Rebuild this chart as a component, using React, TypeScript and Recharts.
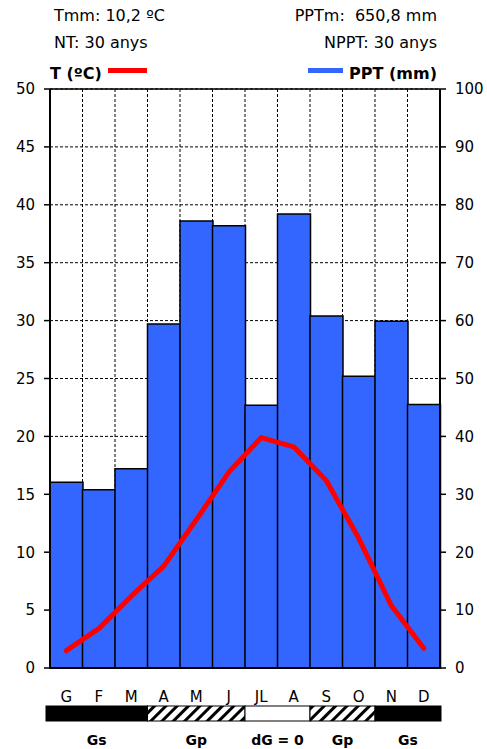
import React from "react";
import {
  ComposedChart,
  Bar,
  Line,
  XAxis,
  YAxis,
  CartesianGrid,
  ReferenceLine,
} from "recharts";

const months = ["G", "F", "M", "A", "M", "J", "JL", "A", "S", "O", "N", "D"];
const temperature = [1.5, 3.4, 6.2, 8.8, 12.8, 16.9, 19.9, 19.1, 16.2, 11.2, 5.4, 1.7];
const precipitation = [32.1, 30.8, 34.4, 59.4, 77.2, 76.4, 45.4, 78.4, 60.8, 50.4, 59.9, 45.5];
const tempTicks = [0, 5, 10, 15, 20, 25, 30, 35, 40, 45, 50];
const pptTicks = [0, 10, 20, 30, 40, 50, 60, 70, 80, 90, 100];
const boundaryTicks = [0, 1, 2, 3, 4, 5, 6, 7, 8, 9, 10, 11, 12];

// growth periods: start month, end month (exclusive), fill kind
const phaseLabels = ["Gs", "Gp", "dG = 0", "Gp", "Gs"];
const phaseStart = [0, 3, 6, 8, 10];
const phaseEnd = [3, 6, 8, 10, 12];
const phaseKind = ["solid", "hatch", "blank", "hatch", "solid"];

const W = 487;
const H = 749;
const PLOT_LEFT = 50;
const PLOT_RIGHT = 440;
const PLOT_TOP = 89;
const PLOT_BOTTOM = 668;
const FONT = "'DejaVu Sans', Verdana, sans-serif";

const data = months.map((m, i) => ({
  month: m,
  t: temperature[i],
  ppt: precipitation[i],
}));

function PhaseBand() {
  const step = (PLOT_RIGHT - PLOT_LEFT) / 12;
  const xOf = (i: number) =>
    i === 0 ? PLOT_LEFT - 4 : i === 12 ? PLOT_RIGHT + 1 : PLOT_LEFT + i * step;
  return (
    <svg
      width={W}
      height={60}
      style={{ position: "absolute", left: 0, top: 700 }}
    >
      <defs>
        <pattern
          id="hatch"
          width="8"
          height="8"
          patternUnits="userSpaceOnUse"
          patternTransform="rotate(45)"
        >
          <rect x="0" y="0" width="8" height="8" fill="#fff" />
          <rect x="0" y="0" width="3" height="8" fill="#000" />
        </pattern>
      </defs>
      {phaseLabels.map((label, i) => {
        const x0 = xOf(phaseStart[i]);
        const x1 = xOf(phaseEnd[i]);
        const fill =
          phaseKind[i] === "solid" ? "#000" : phaseKind[i] === "hatch" ? "url(#hatch)" : "#fff";
        return (
          <g key={i}>
            <rect x={x0} y={6} width={x1 - x0} height={15} fill={fill} stroke="#000" strokeWidth={1} />
            <text
              x={(x0 + x1) / 2}
              y={45}
              textAnchor="middle"
              fontFamily={FONT}
              fontWeight="bold"
              fontSize={14}
              fill="#000"
            >
              {label}
            </text>
          </g>
        );
      })}
    </svg>
  );
}

export default function App() {
  const textStyle: React.CSSProperties = {
    position: "absolute",
    fontFamily: FONT,
    fontSize: 16,
    color: "#000",
    whiteSpace: "nowrap",
  };
  return (
    <div
      style={{
        position: "absolute",
        left: 0,
        top: 0,
        width: W,
        height: H,
        background: "#fff",
      }}
    >
      <div style={{ ...textStyle, left: 54, top: 6 }}>Tmm: 10,2 ºC</div>
      <div style={{ ...textStyle, right: 50, top: 6 }}>PPTm:&nbsp; 650,8 mm</div>
      <div style={{ ...textStyle, left: 54, top: 33 }}>NT: 30 anys</div>
      <div style={{ ...textStyle, right: 50, top: 33 }}>NPPT: 30 anys</div>
      <div style={{ ...textStyle, left: 50, top: 64, fontWeight: "bold" }}>
        T (ºC)
        <span
          style={{
            display: "inline-block",
            width: 39,
            height: 5,
            background: "#ff0000",
            marginLeft: 6,
            verticalAlign: "middle",
            position: "relative",
            top: -4,
          }}
        />
      </div>
      <div style={{ ...textStyle, right: 50, top: 64, fontWeight: "bold" }}>
        <span
          style={{
            display: "inline-block",
            width: 35,
            height: 5,
            background: "#3366ff",
            marginRight: 6,
            verticalAlign: "middle",
            position: "relative",
            top: -4,
          }}
        />
        PPT (mm)
      </div>

      <ComposedChart
        width={W}
        height={H}
        data={data}
        barCategoryGap={0}
        margin={{ top: PLOT_TOP, bottom: 0, left: 0, right: 0 }}
        style={{ position: "absolute", left: 0, top: 0 }}
      >
        <CartesianGrid
          xAxisId="b"
          yAxisId="t"
          stroke="#000"
          strokeDasharray="3 2"
          strokeWidth={1}
          verticalCoordinatesGenerator={({ offset }: any) =>
            boundaryTicks.map((v) => offset.left + (v * offset.width) / 12)
          }
        />
        <XAxis
          xAxisId="b"
          type="number"
          domain={[0, 12]}
          ticks={boundaryTicks}
          tick={false}
          tickSize={6}
          height={8}
          stroke="#000"
          axisLine={{ stroke: "#000", strokeWidth: 2 }}
          tickLine={{ stroke: "#000", strokeWidth: 1.5 }}
        />
        <XAxis
          xAxisId="m"
          dataKey="month"
          height={H - PLOT_BOTTOM - 8}
          axisLine={false}
          tickLine={false}
          tickSize={0}
          tickMargin={15}
          interval={0}
          tick={{ fill: "#000", fontSize: 15, fontFamily: FONT }}
        />
        <YAxis
          yAxisId="t"
          orientation="left"
          width={PLOT_LEFT}
          domain={[0, 50]}
          ticks={tempTicks}
          tickSize={6}
          tickMargin={9}
          axisLine={{ stroke: "#000", strokeWidth: 2 }}
          tickLine={{ stroke: "#000", strokeWidth: 1.5 }}
          tick={{ fill: "#000", fontSize: 15, fontFamily: FONT }}
        />
        <YAxis
          yAxisId="p"
          orientation="right"
          width={W - PLOT_RIGHT}
          domain={[0, 100]}
          ticks={pptTicks}
          tickSize={6}
          tickMargin={9}
          axisLine={{ stroke: "#000", strokeWidth: 2 }}
          tickLine={{ stroke: "#000", strokeWidth: 1.5 }}
          tick={{ fill: "#000", fontSize: 15, fontFamily: FONT, textAnchor: "start" }}
        />
        <ReferenceLine yAxisId="t" xAxisId="b" y={50} stroke="#000" strokeWidth={1.5} />
        <Bar
          xAxisId="m"
          yAxisId="p"
          dataKey="ppt"
          fill="#3366ff"
          stroke="#000"
          strokeWidth={1.5}
          isAnimationActive={false}
        />
        <Line
          xAxisId="m"
          yAxisId="t"
          type="linear"
          dataKey="t"
          stroke="#ff0000"
          strokeWidth={5}
          strokeLinecap="round"
          strokeLinejoin="round"
          dot={false}
          activeDot={false}
          isAnimationActive={false}
        />
      </ComposedChart>
      <PhaseBand />
    </div>
  );
}
